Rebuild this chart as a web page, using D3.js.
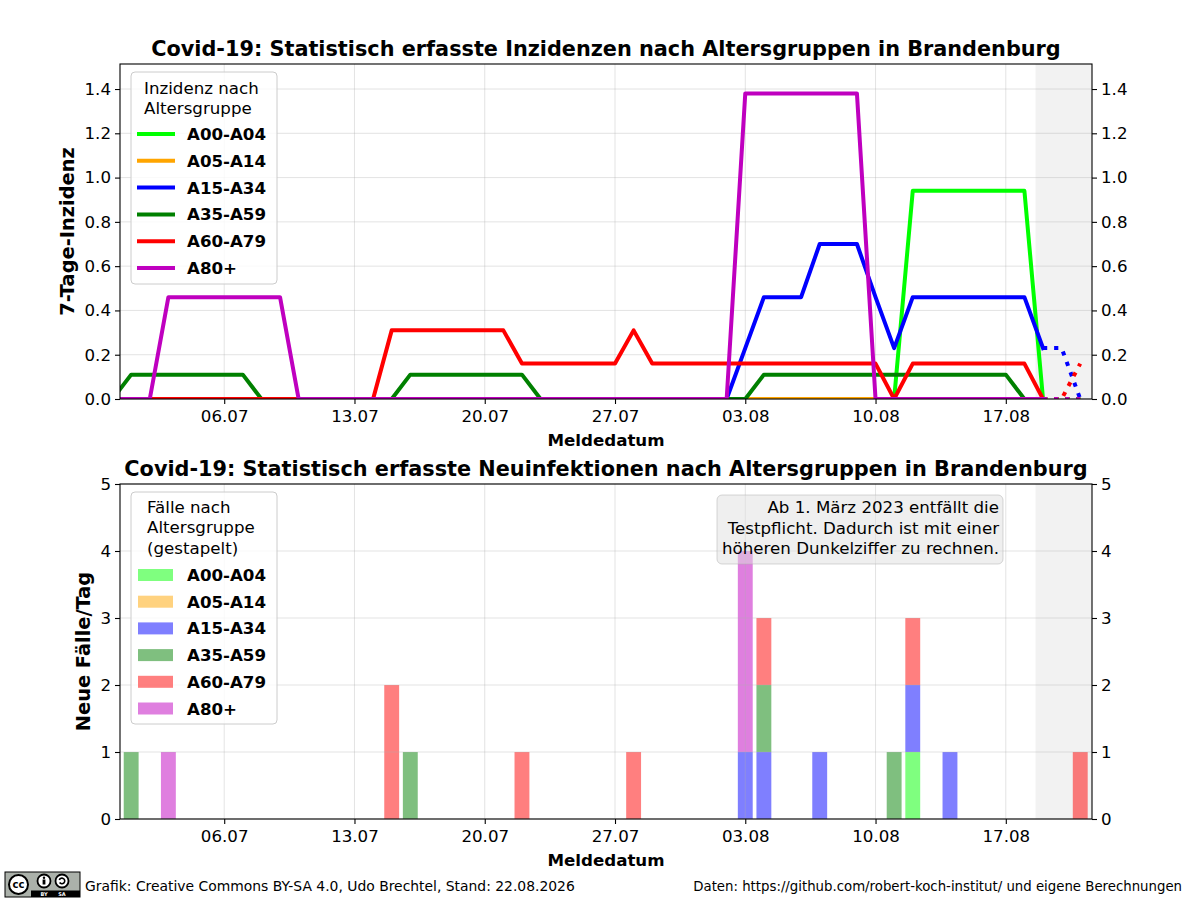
<!DOCTYPE html>
<html>
<head>
<meta charset="utf-8">
<script src="https://cdn.jsdelivr.net/npm/d3@7"></script>
<style>
  body { margin: 0; background: #fff; }
  text { font-family: "DejaVu Sans", sans-serif; }
</style>
</head>
<body>
<script>
// Tage: 30.06. bis 21.08.
var firstDay = Date.UTC(2026, 5, 30);
var lastDay  = Date.UTC(2026, 7, 21);
var days = d3.utcDay.range(new Date(firstDay), new Date(lastDay + 1));

var groups = ['A00-A04', 'A05-A14', 'A15-A34', 'A35-A59', 'A60-A79', 'A80+'];
var colors = ['#00ff00', '#ffa500', '#0000ff', '#008000', '#ff0000', '#bf00bf'];

var tickDates  = ['2026-07-06', '2026-07-13', '2026-07-20', '2026-07-27', '2026-08-03', '2026-08-10', '2026-08-17'];
var inzTicks   = [0, 0.2, 0.4, 0.6, 0.8, 1.0, 1.2, 1.4];
var casesTicks = [0, 1, 2, 3, 4, 5];

// 7-Tage-Inzidenz je Tag (30.06., dann Wochenreihen ab 01.07., Rest 19.-21.08.)
var inzA00 = [0,
  0,0,0,0,0,0,0,
  0,0,0,0,0,0,0,
  0,0,0,0,0,0,0,
  0,0,0,0,0,0,0,
  0,0,0,0,0,0,0,
  0,0,0,0,0,0,0,
  0.94,0.94,0.94,0.94,0.94,0.94,0.94,
  0,0,0];
var inzA05 = [0,
  0,0,0,0,0,0,0,
  0,0,0,0,0,0,0,
  0,0,0,0,0,0,0,
  0,0,0,0,0,0,0,
  0,0,0,0,0,0,0,
  0,0,0,0,0,0,0,
  0,0,0,0,0,0,0,
  0,0,0];
var inzA15 = [0,
  0,0,0,0,0,0,0,
  0,0,0,0,0,0,0,
  0,0,0,0,0,0,0,
  0,0,0,0,0,0,0,
  0,0,0,0,0,0.23,0.46,
  0.46,0.46,0.70,0.70,0.70,0.46,0.23,
  0.46,0.46,0.46,0.46,0.46,0.46,0.46,
  0.23,0.23,0];
var inzA35 = [0,
  0.11,0.11,0.11,0.11,0.11,0.11,0.11,
  0,0,0,0,0,0,0,
  0,0.11,0.11,0.11,0.11,0.11,0.11,
  0.11,0,0,0,0,0,0,
  0,0,0,0,0,0,0.11,
  0.11,0.11,0.11,0.11,0.11,0.11,0.11,
  0.11,0.11,0.11,0.11,0.11,0.11,0,
  0,0,0];
var inzA60 = [0,
  0,0,0,0,0,0,0,
  0,0,0,0,0,0,0,
  0.31,0.31,0.31,0.31,0.31,0.31,0.31,
  0.16,0.16,0.16,0.16,0.16,0.16,0.31,
  0.16,0.16,0.16,0.16,0.16,0.16,0.16,
  0.16,0.16,0.16,0.16,0.16,0.16,0,
  0.16,0.16,0.16,0.16,0.16,0.16,0.16,
  0,0,0.16];
var inzA80 = [0,
  0,0,0.46,0.46,0.46,0.46,0.46,
  0.46,0.46,0,0,0,0,0,
  0,0,0,0,0,0,0,
  0,0,0,0,0,0,0,
  0,0,0,0,0,1.38,1.38,
  1.38,1.38,1.38,1.38,1.38,0,0,
  0,0,0,0,0,0,0,
  0,0,0];

// Neue Faelle je Tag
var casA00 = [0,
  0,0,0,0,0,0,0,
  0,0,0,0,0,0,0,
  0,0,0,0,0,0,0,
  0,0,0,0,0,0,0,
  0,0,0,0,0,0,0,
  0,0,0,0,0,0,0,
  1,0,0,0,0,0,0,
  0,0,0];
var casA05 = [0,
  0,0,0,0,0,0,0,
  0,0,0,0,0,0,0,
  0,0,0,0,0,0,0,
  0,0,0,0,0,0,0,
  0,0,0,0,0,0,0,
  0,0,0,0,0,0,0,
  0,0,0,0,0,0,0,
  0,0,0];
var casA15 = [0,
  0,0,0,0,0,0,0,
  0,0,0,0,0,0,0,
  0,0,0,0,0,0,0,
  0,0,0,0,0,0,0,
  0,0,0,0,0,1,1,
  0,0,1,0,0,0,0,
  1,0,1,0,0,0,0,
  0,0,0];
var casA35 = [0,
  1,0,0,0,0,0,0,
  0,0,0,0,0,0,0,
  0,1,0,0,0,0,0,
  0,0,0,0,0,0,0,
  0,0,0,0,0,0,1,
  0,0,0,0,0,0,1,
  0,0,0,0,0,0,0,
  0,0,0];
var casA60 = [0,
  0,0,0,0,0,0,0,
  0,0,0,0,0,0,0,
  2,0,0,0,0,0,0,
  1,0,0,0,0,0,1,
  0,0,0,0,0,0,1,
  0,0,0,0,0,0,0,
  1,0,0,0,0,0,0,
  0,0,1];
var casA80 = [0,
  0,0,1,0,0,0,0,
  0,0,0,0,0,0,0,
  0,0,0,0,0,0,0,
  0,0,0,0,0,0,0,
  0,0,0,0,0,3,0,
  0,0,0,0,0,0,0,
  0,0,0,0,0,0,0,
  0,0,0];

var inzSeries = [inzA00, inzA05, inzA15, inzA35, inzA60, inzA80];
var casSeries = [casA00, casA05, casA15, casA35, casA60, casA80];

var dotFrom = 50;   // ab 19.08. gepunktet (unvollstaendig)

var W = 1200, H = 900;
var left = 120, right = 1092;
var panels = [
  { top: 64,  bottom: 399, title: 'Covid-19: Statistisch erfasste Inzidenzen nach Altersgruppen in Brandenburg',
    ylabel: '7-Tage-Inzidenz', ylabelX: 74 },
  { top: 484, bottom: 819, title: 'Covid-19: Statistisch erfasste Neuinfektionen nach Altersgruppen in Brandenburg',
    ylabel: 'Neue F\u00e4lle/Tag', ylabelX: 90 }
];

var svg = d3.select('body').append('svg')
            .attr('width', W)
            .attr('height', H);
svg.append('rect').attr('width', W).attr('height', H).attr('fill', '#fff');

var x = d3.scaleUtc()
          .domain([new Date(Date.UTC(2026, 5, 30, 9, 36)), new Date(Date.UTC(2026, 7, 21, 15, 10))])
          .range([left, right]);
var halfDay = 0.4 * 864e5;

var yInz = d3.scaleLinear().domain([0, 1.513]).range([panels[0].bottom, panels[0].top]);
var yCas = d3.scaleLinear().domain([0, 5]).range([panels[1].bottom, panels[1].top]);

var fs = 16.67;

function drawFrame(p, y, ticks, fmt) {
  var g = svg.append('g');
  var xAx = d3.axisBottom(x)
              .tickValues(tickDates.map(function(s){ return new Date(s + 'T00:00:00Z'); }))
              .tickFormat(d3.utcFormat('%d.%m'))
              .tickSize(5).tickPadding(6);
  var gx = g.append('g').attr('transform', 'translate(0,' + p.bottom + ')').call(xAx);
  var gl = g.append('g').attr('transform', 'translate(' + left + ',0)')
            .call(d3.axisLeft(y).tickValues(ticks).tickFormat(fmt).tickSize(5).tickPadding(4));
  var gr = g.append('g').attr('transform', 'translate(' + right + ',0)')
            .call(d3.axisRight(y).tickValues(ticks).tickFormat(fmt).tickSize(5).tickPadding(4));
  [gx, gl, gr].forEach(function(a){
    a.select('.domain').remove();
    a.selectAll('text').attr('font-size', fs).attr('font-family', 'DejaVu Sans').attr('fill', '#000');
    a.selectAll('line').attr('stroke', '#000').attr('stroke-width', 1.1);
  });
  g.append('rect')
   .attr('x', left).attr('y', p.top)
   .attr('width', right - left).attr('height', p.bottom - p.top)
   .attr('fill', 'none').attr('stroke', '#000').attr('stroke-width', 1.1);

  svg.append('text')
     .attr('x', (left + right) / 2).attr('y', p.top - 8)
     .attr('text-anchor', 'middle').attr('font-weight', 'bold').attr('font-size', 20.8)
     .text(p.title);
  svg.append('text')
     .attr('x', (left + right) / 2).attr('y', p.bottom + 47)
     .attr('text-anchor', 'middle').attr('font-weight', 'bold').attr('font-size', fs)
     .text('Meldedatum');
  svg.append('text')
     .attr('transform', 'translate(' + p.ylabelX + ',' + ((p.top + p.bottom) / 2) + ') rotate(-90)')
     .attr('text-anchor', 'middle').attr('font-weight', 'bold').attr('font-size', 19.4)
     .text(p.ylabel);
}

function drawGrid(p, y, ticks) {
  var g = svg.append('g').attr('stroke', '#b0b0b0').attr('stroke-opacity', 0.35).attr('stroke-width', 1);
  tickDates.forEach(function(s){
    var xx = x(new Date(s + 'T00:00:00Z'));
    g.append('line').attr('x1', xx).attr('x2', xx).attr('y1', p.top).attr('y2', p.bottom);
  });
  ticks.forEach(function(t){
    g.append('line').attr('x1', left).attr('x2', right).attr('y1', y(t)).attr('y2', y(t));
  });
}

function drawShade(p) {
  var x0 = x(new Date(days[dotFrom].getTime() - halfDay));
  svg.append('rect')
     .attr('x', x0).attr('y', p.top)
     .attr('width', right - x0).attr('height', p.bottom - p.top)
     .attr('fill', '#808080').attr('fill-opacity', 0.1);
}

// ---------- oben: Inzidenz ----------
var p0 = panels[0];
svg.append('clipPath').attr('id', 'clipTop')
   .append('rect').attr('x', left).attr('y', p0.top).attr('width', right - left).attr('height', p0.bottom - p0.top);

drawShade(p0);
drawGrid(p0, yInz, inzTicks);

var line = d3.line()
             .x(function(d){ return x(d.date); })
             .y(function(d){ return yInz(d.v); });

var lines = svg.append('g').attr('clip-path', 'url(#clipTop)');
inzSeries.forEach(function(arr, k){
  var pts = arr.map(function(v, i){ return { date: days[i], v: v }; });
  lines.append('path')
       .attr('d', line(pts.slice(0, dotFrom + 1)))
       .attr('fill', 'none').attr('stroke', colors[k]).attr('stroke-width', 4)
       .attr('stroke-linejoin', 'round').attr('stroke-linecap', 'square');
  lines.append('path')
       .attr('d', line(pts.slice(dotFrom)))
       .attr('fill', 'none').attr('stroke', colors[k]).attr('stroke-width', 4)
       .attr('stroke-dasharray', '4.2 6.9');
});
drawFrame(p0, yInz, inzTicks, d3.format('.1f'));

// Legende oben
var lg = svg.append('g');
lg.append('rect').attr('x', 131).attr('y', 72).attr('width', 146).attr('height', 212)
  .attr('rx', 4).attr('fill', '#fff').attr('fill-opacity', 0.8).attr('stroke', '#cccccc');
['Inzidenz nach', 'Altersgruppe'].forEach(function(t, i){
  lg.append('text').attr('x', 144).attr('y', 94 + i * 20).attr('font-size', fs).text(t);
});
groups.forEach(function(name, i){
  var yy = 134 + i * 26.8;
  lg.append('line').attr('x1', 137).attr('x2', 175).attr('y1', yy).attr('y2', yy)
    .attr('stroke', colors[i]).attr('stroke-width', 4);
  lg.append('text').attr('x', 187).attr('y', yy + 6).attr('font-size', fs)
    .attr('font-weight', 'bold').text(name);
});

// ---------- unten: Faelle ----------
var p1 = panels[1];
drawShade(p1);

var table = days.map(function(d, i){
  var row = { date: d };
  groups.forEach(function(gname, k){ row[gname] = casSeries[k][i]; });
  return row;
});
var stacked = d3.stack().keys(groups)(table);

var bars = svg.append('g');
stacked.forEach(function(layer, k){
  bars.selectAll(null)
      .data(layer.filter(function(d){ return d[1] > d[0]; }))
      .enter()
      .append('rect')
      .attr('x', function(d){ return x(new Date(d.data.date.getTime() - halfDay)); })
      .attr('width', function(d){ return x(new Date(d.data.date.getTime() + halfDay)) - x(new Date(d.data.date.getTime() - halfDay)); })
      .attr('y', function(d){ return yCas(d[1]); })
      .attr('height', function(d){ return yCas(d[0]) - yCas(d[1]); })
      .attr('fill', colors[k]).attr('fill-opacity', 0.5);
});
drawGrid(p1, yCas, casesTicks);
drawFrame(p1, yCas, casesTicks, d3.format('d'));

// Legende unten
var lg2 = svg.append('g');
lg2.append('rect').attr('x', 131).attr('y', 492).attr('width', 146).attr('height', 232)
   .attr('rx', 4).attr('fill', '#fff').attr('fill-opacity', 0.8).attr('stroke', '#cccccc');
['F\u00e4lle nach', 'Altersgruppe', '(gestapelt)'].forEach(function(t, i){
  lg2.append('text').attr('x', 147).attr('y', 513 + i * 20.3).attr('font-size', fs).text(t);
});
groups.forEach(function(name, i){
  var yy = 575 + i * 26.7;
  lg2.append('rect').attr('x', 138).attr('y', yy - 6).attr('width', 35).attr('height', 12)
     .attr('fill', colors[i]).attr('fill-opacity', 0.5);
  lg2.append('text').attr('x', 187).attr('y', yy + 6).attr('font-size', fs)
     .attr('font-weight', 'bold').text(name);
});

// Hinweis-Box
var note = svg.append('g');
note.append('rect').attr('x', 717).attr('y', 495).attr('width', 286).attr('height', 69)
    .attr('rx', 5).attr('fill', '#e0e0e0').attr('fill-opacity', 0.5)
    .attr('stroke', '#b0b0b0').attr('stroke-opacity', 0.5);
['Ab 1. M\u00e4rz 2023 entf\u00e4llt die', 'Testpflicht. Dadurch ist mit einer', 'h\u00f6heren Dunkelziffer zu rechnen.']
  .forEach(function(t, i){
    note.append('text').attr('x', 999).attr('y', 513 + i * 20.5)
        .attr('text-anchor', 'end').attr('font-size', fs).text(t);
  });

// ---------- Fusszeile ----------
var cc = svg.append('g');
cc.append('rect').attr('x', 5).attr('y', 872).attr('width', 75).attr('height', 25)
  .attr('fill', '#abb1aa').attr('stroke', '#000').attr('stroke-width', 1);
cc.append('rect').attr('x', 31).attr('y', 890.5).attr('width', 49).attr('height', 6.5).attr('fill', '#000');
cc.append('circle').attr('cx', 18.5).attr('cy', 884.5).attr('r', 9.5)
  .attr('fill', '#fff').attr('stroke', '#000').attr('stroke-width', 2);
cc.append('text').attr('x', 18.5).attr('y', 888).attr('text-anchor', 'middle')
  .attr('font-size', 10).attr('font-weight', 'bold').text('cc');
[44, 62].forEach(function(cx){
  cc.append('circle').attr('cx', cx).attr('cy', 881).attr('r', 6.5)
    .attr('fill', '#fff').attr('stroke', '#000').attr('stroke-width', 1.8);
});
cc.append('circle').attr('cx', 44).attr('cy', 877.8).attr('r', 1.2).attr('fill', '#000');
cc.append('rect').attr('x', 42.6).attr('y', 879.5).attr('width', 2.8).attr('height', 5).attr('fill', '#000');
cc.append('path').attr('d', 'M59.3,880 A2.8,2.8 0 1 1 59.6,882.5')
  .attr('fill', 'none').attr('stroke', '#000').attr('stroke-width', 1.6);
cc.append('text').attr('x', 44).attr('y', 896).attr('text-anchor', 'middle')
  .attr('font-size', 5).attr('font-weight', 'bold').attr('fill', '#fff').text('BY');
cc.append('text').attr('x', 62).attr('y', 896).attr('text-anchor', 'middle')
  .attr('font-size', 5).attr('font-weight', 'bold').attr('fill', '#fff').text('SA');

svg.append('text').attr('x', 85).attr('y', 891).attr('font-size', 13.9)
   .text('Grafik: Creative Commons BY-SA 4.0, Udo Brechtel, Stand: 22.08.2026');
svg.append('text').attr('x', 1182).attr('y', 891).attr('text-anchor', 'end').attr('font-size', 13.3)
   .text('Daten: https://github.com/robert-koch-institut/ und eigene Berechnungen');
</script>
</body>
</html>
